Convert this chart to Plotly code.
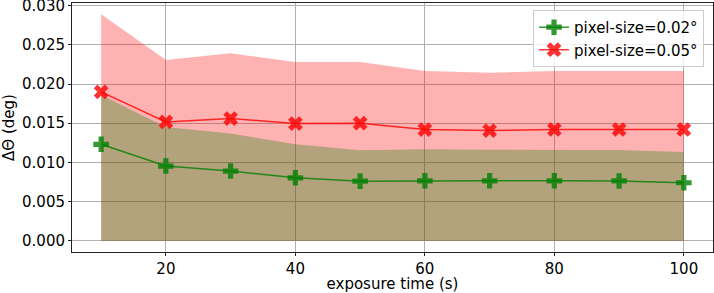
import plotly.graph_objects as go

exposure = [10, 20, 30, 40, 50, 60, 70, 80, 90, 100]
green_mean = [0.01231, 0.00953, 0.00889, 0.00803, 0.00760, 0.00765, 0.00765, 0.00765, 0.00763, 0.00740]
green_upper = [0.01859, 0.01453, 0.01368, 0.01231, 0.01154, 0.01167, 0.01162, 0.01160, 0.01158, 0.01132]
red_mean = [0.01901, 0.01517, 0.01560, 0.01496, 0.01500, 0.01419, 0.01406, 0.01420, 0.01420, 0.01420]
red_upper = [0.02893, 0.02308, 0.02393, 0.02282, 0.02282, 0.02167, 0.02145, 0.02167, 0.02167, 0.02167]
labels = ["pixel-size=0.02°", "pixel-size=0.05°"]

font = dict(family="DejaVu Sans", size=15, color="black")

fig = go.Figure()
fig.add_trace(go.Scatter(x=exposure, y=red_upper, mode="lines", line=dict(width=0),
                         fill="tozeroy", fillcolor="rgba(255,0,0,0.3)", showlegend=False,
                         hoverinfo="skip"))
fig.add_trace(go.Scatter(x=exposure, y=green_upper, mode="lines", line=dict(width=0),
                         fill="tozeroy", fillcolor="rgba(0,128,0,0.3)", showlegend=False,
                         hoverinfo="skip"))
fig.add_trace(go.Scatter(x=exposure, y=green_mean, mode="lines+markers", name=labels[0],
                         line=dict(color="rgba(0,128,0,0.8)", width=1.5),
                         marker=dict(symbol="cross", size=13, color="rgba(0,128,0,0.8)",
                                     line=dict(width=0))))
fig.add_trace(go.Scatter(x=exposure, y=red_mean, mode="lines+markers", name=labels[1],
                         line=dict(color="rgba(255,0,0,0.8)", width=1.5),
                         marker=dict(symbol="x", size=13, color="rgba(255,0,0,0.8)",
                                     line=dict(width=0))))

axis_common = dict(showline=True, linecolor="#222222", linewidth=1, mirror=True,
                   ticks="outside", ticklen=3, tickwidth=1, tickcolor="#222222",
                   showgrid=True, gridcolor="#b0b0b0", gridwidth=1, zeroline=False,
                   tickfont=font, automargin=False, ticklabeloverflow="allow")

fig.update_xaxes(range=[5.5, 104.5], tickvals=[20, 40, 60, 80, 100],
                 title=dict(text="exposure time (s)", font=font, standoff=0), **axis_common)
fig.update_yaxes(range=[-0.001446, 0.030354], dtick=0.005, tick0=0, tickformat=".3f",
                 title=dict(text="ΔΘ (deg)", font=font, standoff=3), **axis_common)

fig.update_layout(
    width=714, height=293,
    margin=dict(l=72, r=1, t=3, b=41),
    paper_bgcolor="white", plot_bgcolor="white",
    font=font,
    showlegend=True,
    legend=dict(x=0.986, y=0.972, xanchor="right", yanchor="top",
                bgcolor="rgba(255,255,255,0.8)", bordercolor="#cccccc", borderwidth=1,
                font=font, tracegroupgap=0, itemwidth=30),
)

fig.write_html("out.html", config={"displayModeBar": False},
               post_script="document.body.style.margin='0';")
